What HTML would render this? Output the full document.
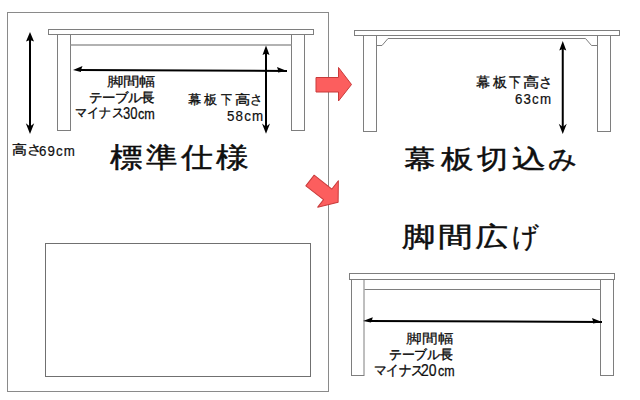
<!DOCTYPE html>
<html lang="ja">
<head>
<meta charset="utf-8">
<style>
html,body{margin:0;padding:0;background:#fff;}
body{width:640px;height:400px;position:relative;overflow:hidden;font-family:"Liberation Sans",sans-serif;color:#111;}
svg{position:absolute;left:0;top:0;}
.t{position:absolute;white-space:nowrap;line-height:1;transform-origin:0 0;}
.r{text-align:right;}
.g{position:absolute;white-space:nowrap;line-height:1;transform-origin:0 0;font-size:32px;-webkit-text-stroke:0.5px #000;}
</style>
</head>
<body>
<svg width="640" height="400" viewBox="0 0 640 400">
  <g fill="none" stroke="#8a8a8a" stroke-width="1">
    <rect x="7.5" y="12.5" width="321" height="379"/>
  </g>
  <g fill="none" stroke="#707070" stroke-width="1">
    <rect x="45.5" y="243.5" width="265" height="133"/>
  </g>
  <!-- table 1 -->
  <g fill="none" stroke="#7e7e7e" stroke-width="1">
    <rect x="48.5" y="29.5" width="265" height="5"/>
    <rect x="57.5" y="34.5" width="13" height="96"/>
    <rect x="291.5" y="34.5" width="13" height="96"/>
    <line x1="70.5" y1="44.9" x2="291.5" y2="44.9" stroke="#999" stroke-width="1.5"/>
  </g>
  <!-- table 2 -->
  <g fill="none" stroke="#7e7e7e" stroke-width="1">
    <rect x="354.5" y="30.5" width="265" height="5"/>
    <rect x="363.5" y="35.5" width="13" height="96"/>
    <rect x="597.5" y="35.5" width="13" height="96"/>
    <polyline points="376.5,45.5 382,45.5 388,38.5 585.5,38.5 591.5,45.5 597.5,45.5"/>
  </g>
  <!-- table 3 -->
  <g fill="none" stroke="#7e7e7e" stroke-width="1">
    <rect x="349.5" y="273.5" width="265" height="6"/>
    <rect x="351.5" y="279.5" width="12.5" height="96"/>
    <rect x="600.5" y="279.5" width="13" height="96"/>
    <line x1="364.5" y1="289.5" x2="600.5" y2="289.5"/>
  </g>
  <!-- arrows -->
  <g fill="#000" stroke="none">
    <!-- left vertical -->
    <rect x="29" y="38" width="2" height="90"/>
    <path d="M30 32 L34 41.5 L30 40 L26 41.5 Z"/>
    <path d="M30 134 L34.2 123.3 L30 126.5 L25.8 123.3 Z"/>
    <!-- h arrow 1 -->
    <path d="M78 69 L287 70 L287 72 L78 71 Z"/>
    <path d="M73 70 L82.5 66 L81 70 L81 72 Z"/>
    <path d="M287 71 L277 67 L278 70 L278 72.5 Z"/>
    <!-- v arrow 58 -->
    <rect x="265" y="50" width="2" height="78"/>
    <path d="M266 45.5 L269.5 55 L266 53.5 L262.5 55 Z"/>
    <path d="M266 133.8 L270 123.5 L266 126.8 L262 123.5 Z"/>
    <!-- v arrow 63 -->
    <rect x="561.75" y="46" width="2" height="82"/>
    <path d="M562.75 41 L566.25 50.5 L562.75 49 L559.25 50.5 Z"/>
    <path d="M562.75 134 L566.75 123.7 L562.75 127 L558.75 123.7 Z"/>
    <!-- h arrow 3 -->
    <path d="M368 320 L602 321 L602 323 L368 322 Z"/>
    <path d="M363 320.9 L372.8 317.2 L372 320 L371 322.6 Z"/>
    <path d="M602 322 L592 318 L593 321 L593 323.5 Z"/>
  </g>
  <!-- red arrows -->
  <g fill="#fc5e5e" stroke="#c93a3a" stroke-width="1" stroke-linejoin="round">
    <path d="M316 77.5 L338.5 77.5 L338.5 67.5 L351.5 84.5 L338.5 101 L338.5 92 L316 92 Z"/>
    <path transform="translate(310,180.5) rotate(38) translate(-316,-84.75)" d="M316 78 L338.5 78 L338.5 67.5 L351.5 84.5 L338.5 101 L338.5 91.5 L316 91.5 Z"/>
  </g>
</svg>
<div class="t" style="left:106.73px;top:75.16px;font-size:15px;font-weight:400;letter-spacing:0px;transform:scale(1.0686,0.8393);-webkit-text-stroke:0.2px #000;">脚間幅</div>
<div class="t" style="left:89.14px;top:91.00px;font-size:15px;font-weight:400;letter-spacing:0px;transform:scale(0.8615,0.8333);-webkit-text-stroke:0.45px #000;">テーブル長</div>
<div class="t" style="left:75.18px;top:106.23px;font-size:15px;font-weight:400;letter-spacing:0px;transform:scale(0.8158,0.8846);-webkit-text-stroke:0.4px #000;">マイナス</div>
<div class="t" style="left:122.80px;top:105.48px;font-size:15px;font-weight:400;letter-spacing:0px;transform:scale(0.8687,1.0400);-webkit-text-stroke:0.2px #000;">30</div>
<div class="t" style="left:138.30px;top:106.33px;font-size:15px;font-weight:400;letter-spacing:0px;transform:scale(0.8421,0.9750);-webkit-text-stroke:0.3px #000;">cm</div>
<div class="t" style="left:226.80px;top:108.15px;font-size:14px;font-weight:400;letter-spacing:1.2px;transform:scale(0.9542,1.0500);-webkit-text-stroke:0.2px #000;">58cm</div>
<div class="t" style="left:11.60px;top:143.25px;font-size:14px;font-weight:400;letter-spacing:0px;transform:scale(1.0958,0.9536);-webkit-text-stroke:0.3px #000;">高さ</div>
<div class="t" style="left:38.55px;top:142.91px;font-size:14px;font-weight:400;letter-spacing:1.2px;transform:scale(0.9500,1.0950);-webkit-text-stroke:0.2px #000;">69cm</div>
<div class="t" style="left:514.80px;top:90.97px;font-size:14px;font-weight:400;letter-spacing:1.2px;transform:scale(0.9514,1.0650);-webkit-text-stroke:0.2px #000;">63cm</div>
<div class="t" style="left:405.73px;top:331.31px;font-size:15px;font-weight:400;letter-spacing:0px;transform:scale(1.0744,0.8857);-webkit-text-stroke:0.2px #000;">脚間幅</div>
<div class="t" style="left:388.85px;top:347.80px;font-size:15px;font-weight:400;letter-spacing:0px;transform:scale(0.8459,0.8533);-webkit-text-stroke:0.45px #000;">テーブル長</div>
<div class="t" style="left:374.48px;top:362.78px;font-size:15px;font-weight:400;letter-spacing:0px;transform:scale(0.8175,0.9077);-webkit-text-stroke:0.4px #000;">マイナス</div>
<div class="t" style="left:421.37px;top:361.96px;font-size:15px;font-weight:400;letter-spacing:0px;transform:scale(0.9333,1.0800);-webkit-text-stroke:0.2px #000;">20</div>
<div class="t" style="left:437.60px;top:363.16px;font-size:15px;font-weight:400;letter-spacing:0px;transform:scale(0.8316,0.9875);-webkit-text-stroke:0.3px #000;">cm</div>
<div class="t" style="left:187.90px;top:92.75px;font-size:14px;transform:scale(0.9786,0.9536);-webkit-text-stroke:0.3px #000;">幕</div>
<div class="t" style="left:204.10px;top:92.75px;font-size:14px;transform:scale(0.9643,0.9536);-webkit-text-stroke:0.3px #000;">板</div>
<div class="t" style="left:221.00px;top:92.75px;font-size:14px;transform:scale(0.8071,0.9536);-webkit-text-stroke:0.3px #000;">下</div>
<div class="t" style="left:234.88px;top:92.75px;font-size:14px;transform:scale(1.1250,0.9536);-webkit-text-stroke:0.3px #000;">高</div>
<div class="t" style="left:250.13px;top:92.75px;font-size:14px;transform:scale(0.9333,0.9536);-webkit-text-stroke:0.3px #000;">さ</div>
<div class="t" style="left:476.30px;top:75.25px;font-size:14px;transform:scale(0.9786,0.9643);-webkit-text-stroke:0.3px #000;">幕</div>
<div class="t" style="left:492.50px;top:75.25px;font-size:14px;transform:scale(0.9643,0.9643);-webkit-text-stroke:0.3px #000;">板</div>
<div class="t" style="left:509.40px;top:75.25px;font-size:14px;transform:scale(0.8071,0.9643);-webkit-text-stroke:0.3px #000;">下</div>
<div class="t" style="left:523.27px;top:75.25px;font-size:14px;transform:scale(1.1250,0.9643);-webkit-text-stroke:0.3px #000;">高</div>
<div class="t" style="left:538.53px;top:75.25px;font-size:14px;transform:scale(0.9333,0.9643);-webkit-text-stroke:0.3px #000;">さ</div>
<div class="t" style="left:110.40px;top:143.93px;font-size:32px;transform:scale(1.0113,0.8677);-webkit-text-stroke:0.5px #000;">標</div>
<div class="t" style="left:146.25px;top:143.93px;font-size:32px;transform:scale(0.9758,0.8677);-webkit-text-stroke:0.5px #000;">準</div>
<div class="t" style="left:181.25px;top:143.93px;font-size:32px;transform:scale(0.9887,0.8677);-webkit-text-stroke:0.5px #000;">仕</div>
<div class="t" style="left:216.00px;top:143.93px;font-size:32px;transform:scale(1.0161,0.8677);-webkit-text-stroke:0.5px #000;">様</div>
<div class="t" style="left:403.91px;top:145.60px;font-size:32px;transform:scale(0.9867,0.8125);-webkit-text-stroke:0.5px #000;">幕</div>
<div class="t" style="left:440.80px;top:145.60px;font-size:32px;transform:scale(1.0194,0.8125);-webkit-text-stroke:0.5px #000;">板</div>
<div class="t" style="left:476.60px;top:145.60px;font-size:32px;transform:scale(0.9724,0.8125);-webkit-text-stroke:0.5px #000;">切</div>
<div class="t" style="left:512.13px;top:145.60px;font-size:32px;transform:scale(1.0655,0.8125);-webkit-text-stroke:0.5px #000;">込</div>
<div class="t" style="left:548.11px;top:145.60px;font-size:32px;transform:scale(0.8933,0.8125);-webkit-text-stroke:0.5px #000;">み</div>
<div class="t" style="left:402.47px;top:223.60px;font-size:32px;transform:scale(1.0345,0.8333);-webkit-text-stroke:0.5px #000;">脚</div>
<div class="t" style="left:438.26px;top:223.60px;font-size:32px;transform:scale(1.0714,0.8333);-webkit-text-stroke:0.5px #000;">間</div>
<div class="t" style="left:474.98px;top:223.60px;font-size:32px;transform:scale(1.0200,0.8333);-webkit-text-stroke:0.5px #000;">広</div>
<div class="t" style="left:512.49px;top:223.60px;font-size:32px;transform:scale(0.8065,0.8333);-webkit-text-stroke:0.5px #000;">げ</div>
</body>
</html>
